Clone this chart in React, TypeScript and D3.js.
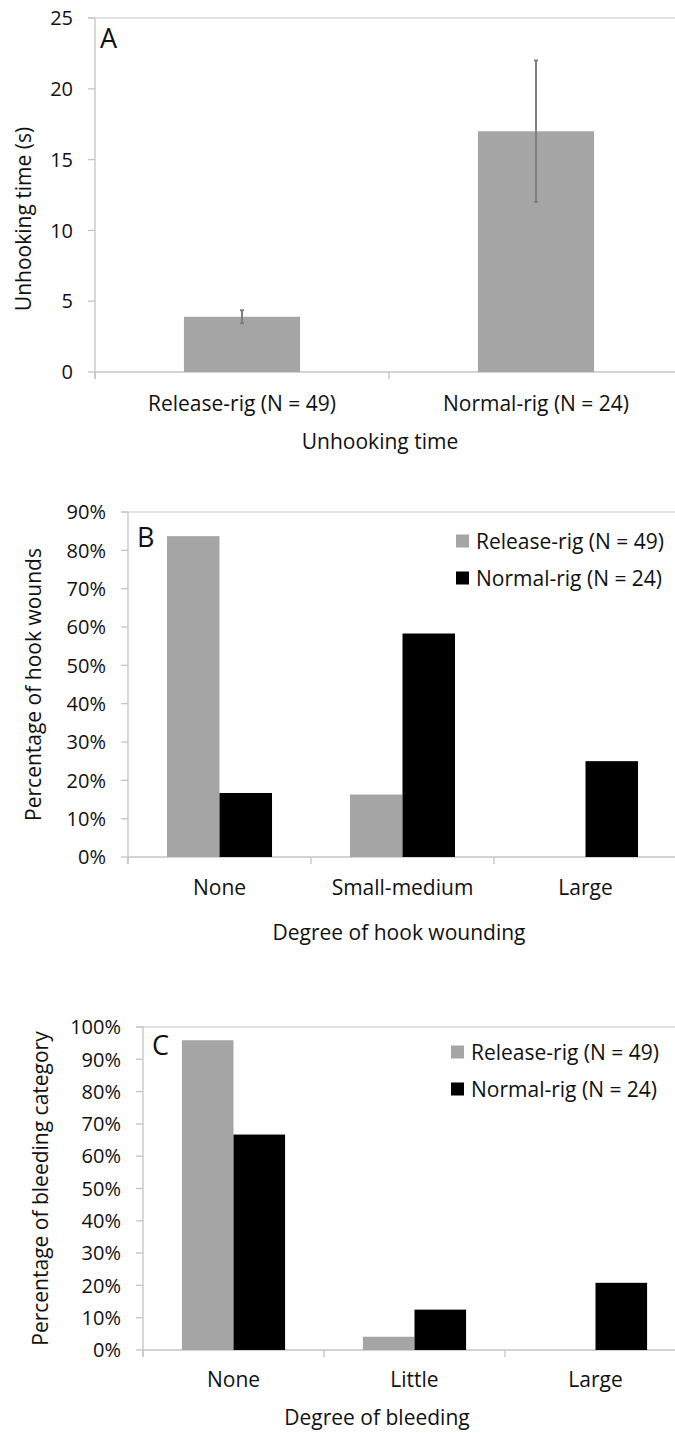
import * as d3 from 'd3';

const FONT = '"Open Sans", sans-serif';

// Panel A: unhooking time
const unhookGroups = ['Release-rig (N = 49)', 'Normal-rig (N = 24)'];
const unhookMean = [3.9, 17.0];
const unhookErr = [0.46, 5.0];
const unhookTicks = [0, 5, 10, 15, 20, 25];

// Panel B: hook wounding
const woundCats = ['None', 'Small-medium', 'Large'];
const woundRelease = [0.837, 0.163, 0];
const woundNormal = [0.167, 0.583, 0.25];
const woundTicks = [0, 0.1, 0.2, 0.3, 0.4, 0.5, 0.6, 0.7, 0.8, 0.9];

// Panel C: bleeding
const bleedCats = ['None', 'Little', 'Large'];
const bleedRelease = [0.959, 0.041, 0];
const bleedNormal = [0.667, 0.125, 0.208];
const bleedTicks = [0, 0.1, 0.2, 0.3, 0.4, 0.5, 0.6, 0.7, 0.8, 0.9, 1.0];

const seriesNames = ['Release-rig (N = 49)', 'Normal-rig (N = 24)'];
const seriesColors = ['#a5a5a5', '#000000'];

const AXIS = '#c4c4c4';
const GRID = '#d9d9d9';
const TXT = '#111';
const FS = 21;
const TICK_FS = 20;

function Axes({ x, y, ticks, fmt, top, categories }) {
  const [x0, x1] = x.range();
  const zero = y(0);
  const bounds = categories.map(c => x(c)).concat([x1]);
  return (
    <g>
      <line x1={x0 - 7} x2={675} y1={y(top)} y2={y(top)} stroke={GRID} strokeWidth={1.3} />
      <line x1={x0} x2={x0} y1={y(top)} y2={zero + 7} stroke={AXIS} strokeWidth={1.3} />
      <line x1={x0} x2={x1} y1={zero} y2={zero} stroke={AXIS} strokeWidth={1.3} />
      {ticks.map(t => (
        <g key={t}>
          <line x1={x0 - 7} x2={x0} y1={y(t)} y2={y(t)} stroke={AXIS} strokeWidth={1.3} />
          <text x={x0 - 22} y={y(t)} dy="0.36em" textAnchor="end" fontSize={TICK_FS} fill={TXT}>{fmt(t)}</text>
        </g>
      ))}
      {bounds.map((b, i) => (
        <line key={i} x1={b} x2={b} y1={zero} y2={zero + 7} stroke={AXIS} strokeWidth={1.3} />
      ))}
    </g>
  );
}

function Legend({ x, y }) {
  return (
    <g>
      {seriesNames.map((s, i) => (
        <g key={s} transform={`translate(${x},${y + i * 37})`}>
          <rect x={0} y={-6.5} width={13} height={13} fill={seriesColors[i]} />
          <text x={20} y={0} dy="0.36em" fontSize={FS} fill={TXT}>{s}</text>
        </g>
      ))}
    </g>
  );
}

function GroupedPanel({ cats, rel, norm, ticks, top, left, right, yTop, yZero, pairFrac, letter, letterPos, yTitle, yTitleX, xTitle, xTitleX, xTitleY, labelY, legendPos }) {
  const x = d3.scaleBand().domain(cats).range([left, right]).padding(0);
  const y = d3.scaleLinear().domain([0, top]).range([yZero, yTop]);
  const pairW = x.bandwidth() * pairFrac;
  const inner = d3.scaleBand().domain(['0', '1']).range([0, pairW]).padding(0);
  const fmt = d3.format('.0%');
  const series = [rel, norm];
  return (
    <g>
      <Axes x={x} y={y} ticks={ticks} fmt={fmt} top={top} categories={cats} />
      {cats.map((c, i) => (
        <g key={c}>
          {series.map((vals, s) => vals[i] > 0 && (
            <rect key={s}
              x={x(c) + (x.bandwidth() - pairW) / 2 + inner(String(s))}
              width={inner.bandwidth()}
              y={y(vals[i])}
              height={yZero - y(vals[i])}
              fill={seriesColors[s]} />
          ))}
          <text x={x(c) + x.bandwidth() / 2} y={labelY} textAnchor="middle" fontSize={FS} fill={TXT}>{c}</text>
        </g>
      ))}
      <text x={letterPos[0]} y={letterPos[1]} fontSize={27} fill={TXT}>{letter}</text>
      <text transform={`translate(${yTitleX},${(yTop + yZero) / 2}) rotate(-90)`} textAnchor="middle" fontSize={FS} fill={TXT}>{yTitle}</text>
      <text x={xTitleX} y={xTitleY} textAnchor="middle" fontSize={FS} fill={TXT}>{xTitle}</text>
      <Legend x={legendPos[0]} y={legendPos[1]} />
    </g>
  );
}

function PanelA() {
  const x = d3.scaleBand().domain(unhookGroups).range([95, 683]).padding(0);
  const y = d3.scaleLinear().domain([0, 25]).range([372, 18]);
  const bw = x.bandwidth() * 0.395;
  return (
    <g>
      <Axes x={x} y={y} ticks={unhookTicks} fmt={d => String(d)} top={25} categories={unhookGroups} />
      {unhookGroups.map((g, i) => {
        const cx = x(g) + x.bandwidth() / 2;
        const hi = y(unhookMean[i] + unhookErr[i]);
        const lo = y(unhookMean[i] - unhookErr[i]);
        return (
          <g key={g}>
            <rect x={cx - bw / 2} width={bw} y={y(unhookMean[i])} height={372 - y(unhookMean[i])} fill="#a5a5a5" />
            <line x1={cx} x2={cx} y1={hi} y2={lo} stroke="#7f7f7f" strokeWidth={2} />
            <line x1={cx - 2} x2={cx + 2} y1={hi} y2={hi} stroke="#7f7f7f" strokeWidth={2} />
            <line x1={cx - 2} x2={cx + 2} y1={lo} y2={lo} stroke="#7f7f7f" strokeWidth={2} />
            <text x={cx} y={411} textAnchor="middle" fontSize={FS} fill={TXT}>{g}</text>
          </g>
        );
      })}
      <text x={100} y={48} fontSize={27} fill={TXT}>A</text>
      <text transform="translate(31,219) rotate(-90)" textAnchor="middle" fontSize={FS} fill={TXT}>Unhooking time (s)</text>
      <text x={380} y={449} textAnchor="middle" fontSize={FS} fill={TXT}>Unhooking time</text>
    </g>
  );
}

export default function App() {
  return (
    <svg width={675} height={1433} style={{ position: 'absolute', left: 0, top: 0, background: '#fff' }} fontFamily={FONT}>
      <rect width={675} height={1433} fill="#fff" />
      <PanelA />
      <GroupedPanel cats={woundCats} rel={woundRelease} norm={woundNormal} ticks={woundTicks} top={0.9}
        left={128} right={677} yTop={512} yZero={857} pairFrac={0.574}
        letter="B" letterPos={[137, 547]} yTitle="Percentage of hook wounds" yTitleX={41}
        xTitle="Degree of hook wounding" xTitleX={399} xTitleY={940} labelY={895}
        legendPos={[456, 541]} />
      <GroupedPanel cats={bleedCats} rel={bleedRelease} norm={bleedNormal} ticks={bleedTicks} top={1.0}
        left={143} right={686} yTop={1027} yZero={1350} pairFrac={0.57}
        letter="C" letterPos={[152, 1055]} yTitle="Percentage of bleeding category" yTitleX={48}
        xTitle="Degree of bleeding" xTitleX={377} xTitleY={1425} labelY={1387}
        legendPos={[451, 1052]} />
    </svg>
  );
}
